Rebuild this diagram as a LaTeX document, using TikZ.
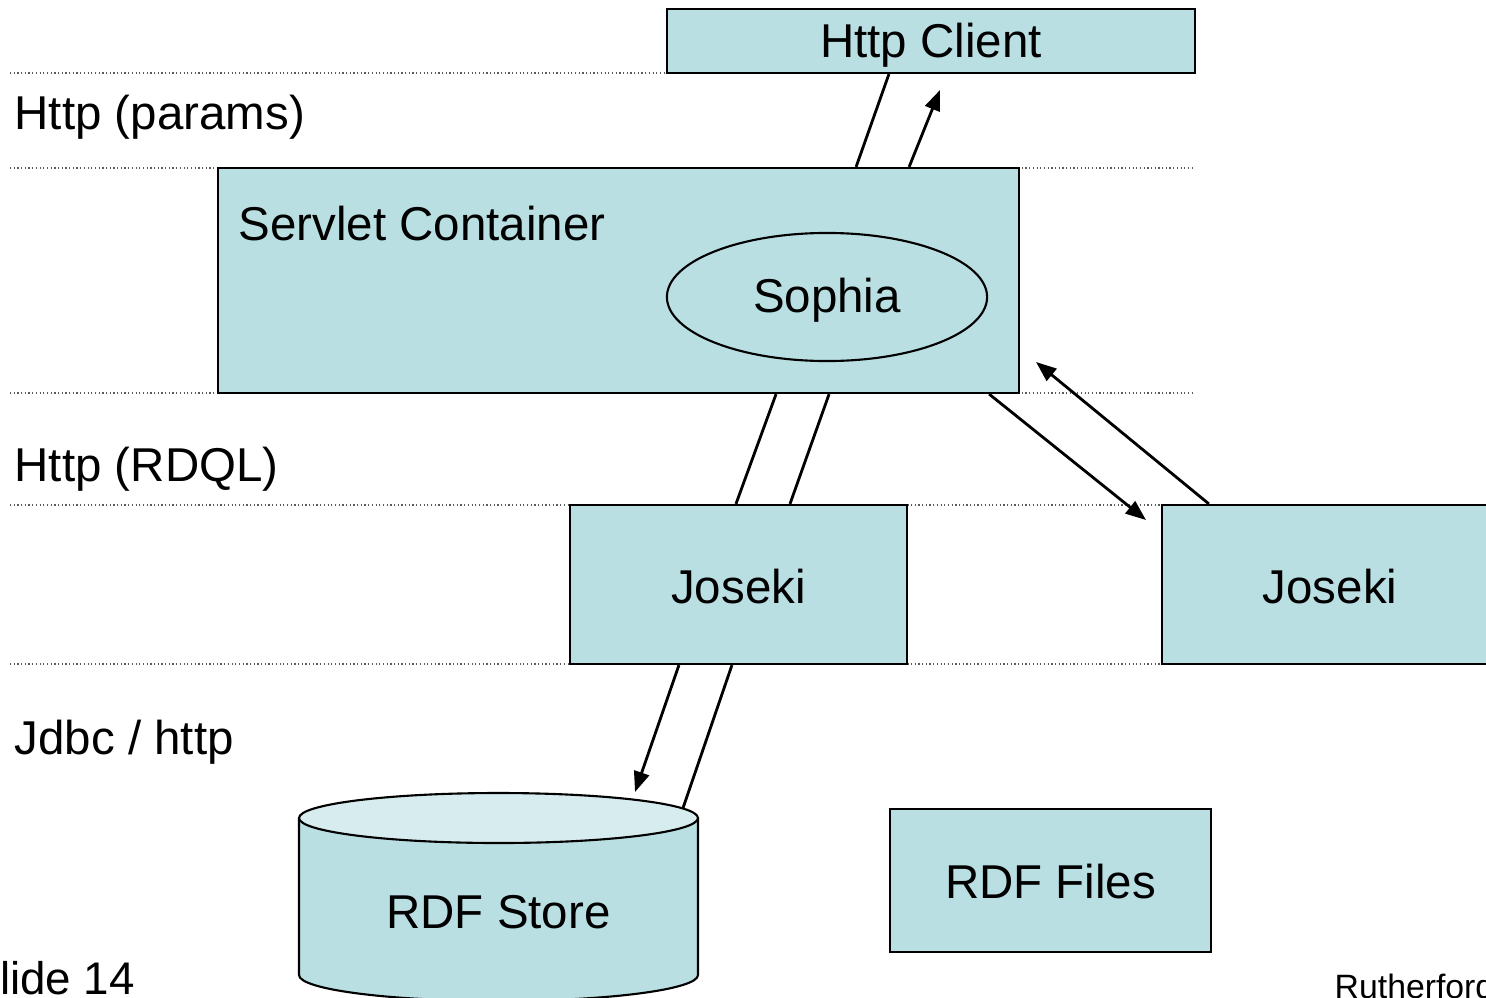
\documentclass[tikz,border=0pt]{standalone}
\usepackage{fontspec}
\setmainfont{Liberation Sans}
\usetikzlibrary{shapes.geometric,arrows.meta}
\definecolor{boxfill}{RGB}{185,223,227}
\definecolor{topfill}{RGB}{214,236,239}
\definecolor{dotcol}{RGB}{90,90,90}
\tikzset{
  sep/.style={draw=dotcol, line width=0.4pt, dash pattern=on 0.35pt off 0.7pt},
  blk/.style={draw=black, fill=boxfill, line width=0.6pt, inner sep=0pt, font=\fontsize{13.5}{16}\selectfont},
  lbl/.style={inner sep=0pt, anchor=west, font=\fontsize{13.5}{16}\selectfont},
  conn/.style={draw=black, line width=0.8pt},
  arr/.style={conn, -{Triangle[length=5.8pt,width=4.4pt]}}
}
\begin{document}
\begin{tikzpicture}[x=0.01cm,y=-0.01cm]
\useasboundingbox (0,0) rectangle (1486,997);
\clip (0,0) rectangle (1486,997);
% separators
\draw[sep] (10,73) -- (667,73);
\draw[sep] (10,168) -- (1195,168);
\draw[sep] (10,393) -- (1195,393);
\draw[sep] (10,505) -- (1162,505);
\draw[sep] (10,664) -- (1162,664);
% layer labels
\node[lbl] (lparams) at (14,117) {Http (params)};
\node[lbl] (lrdql) at (14,469) {Http (RDQL)};
\node[lbl] (ljdbc) at (14,742) {Jdbc / http};
% boxes
\node[blk, minimum width=5.28cm, minimum height=0.64cm] (client) at (931,41) {};
\node[inner sep=0pt, font=\fontsize{13.5}{16}\selectfont] (clienttext) at (931,45) {Http Client};
\node[blk, minimum width=8.01cm, minimum height=2.25cm] (servlet) at (618.5,280.5) {};
\node[lbl, anchor=base west] (sctext) at (238,240) {Servlet Container};
\node[draw=black, fill=boxfill, line width=0.6pt, ellipse, minimum width=3.2cm, minimum height=1.28cm, inner sep=0pt, font=\fontsize{13.5}{16}\selectfont, text depth=0pt, text height=0.9em] (sophia) at (827,297) {Sophia};
\node[blk, minimum width=3.37cm, minimum height=1.59cm] (joseki1) at (738.5,584.5) {};
\node[inner sep=0pt, font=\fontsize{13.5}{16}\selectfont] (j1text) at (738.5,587) {Joseki};
\node[blk, minimum width=3.36cm, minimum height=1.59cm] (joseki2) at (1330,584.5) {};
\node[inner sep=0pt, font=\fontsize{13.5}{16}\selectfont] (j2text) at (1330,587) {Joseki};
\node[blk, minimum width=3.21cm, minimum height=1.43cm] (files) at (1050.5,880.5) {};
\node[inner sep=0pt, font=\fontsize{13.5}{16}\selectfont] (filestext) at (1050.5,882) {RDF Files};
% cylinder
\draw[fill=boxfill, line width=0.6pt] (299,818) -- (299,975) arc[start angle=180, end angle=0, x radius=199.5, y radius=26] -- (698,818);
\draw[fill=topfill, line width=0.6pt] (498.5,818) ellipse[x radius=199.5, y radius=25];
\node[inner sep=0pt, font=\fontsize{13.5}{16}\selectfont] (store) at (498.5,912) {RDF Store};
% footer
\node[inner sep=0pt, anchor=base west, font=\fontsize{13}{15}\selectfont] (slide) at (-31,994) {Slide 14};
\node[inner sep=0pt, anchor=base west, font=\fontsize{9.6}{11}\selectfont] (ruth) at (1334,998) {Rutherford};
% connector end points
\coordinate (c1) at (940,90);
\coordinate (c2) at (1146,520);
\coordinate (c3) at (1036,362);
\coordinate (c4) at (635,792);
\coordinate (c5) at (683,808);
% connectors
\draw[conn] ([xshift=2.23cm]client.south west) -- ([xshift=6.39cm]servlet.north west);
\draw[arr] ([xshift=6.92cm]servlet.north west) -- (c1);
\draw[conn] ([xshift=5.59cm]servlet.south west) -- ([xshift=1.67cm]joseki1.north west);
\draw[conn] ([xshift=6.12cm]servlet.south west) -- ([xshift=2.21cm]joseki1.north west);
\draw[arr] ([xshift=7.72cm]servlet.south west) -- (c2);
\draw[arr] ([xshift=0.48cm]joseki2.north west) -- (c3);
\draw[arr] ([xshift=1.10cm]joseki1.south west) -- (c4);
\draw[conn] ([xshift=1.63cm]joseki1.south west) -- (c5);
\end{tikzpicture}
\end{document}
